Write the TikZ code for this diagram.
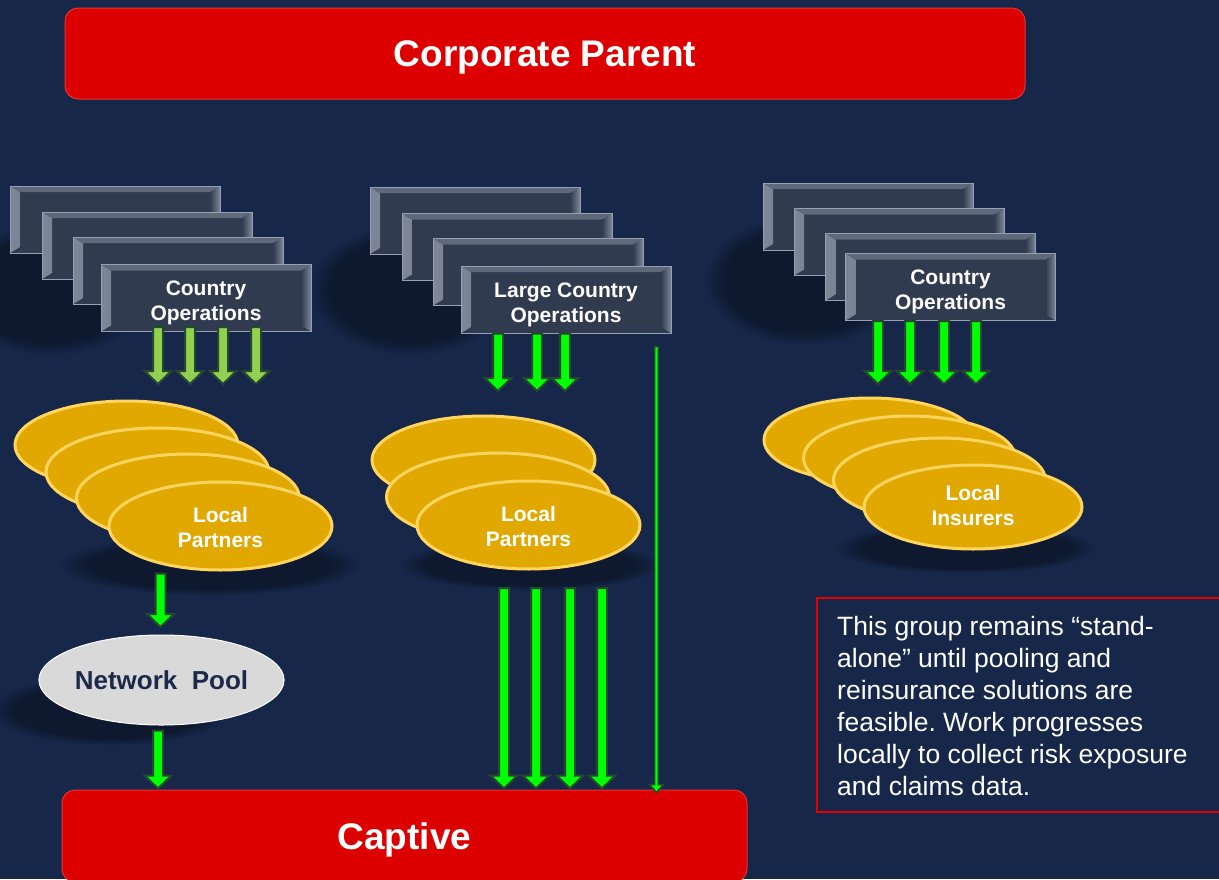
\documentclass[tikz,border=0pt]{standalone}
\usepackage{fontspec}
\setmainfont{Liberation Sans}
\frenchspacing
\usetikzlibrary{shapes,
	arrows.meta,
	calc,
	positioning,
	fadings}
\definecolor{navy}{RGB}{22,39,73}
\definecolor{barred}{RGB}{221,0,0}
\definecolor{opfill}{RGB}{48,59,80}
\definecolor{opedge}{RGB}{150,160,178}
\definecolor{bevel}{RGB}{125,135,152}
\definecolor{gold}{RGB}{224,168,0}
\definecolor{goldedge}{RGB}{255,212,95}
\definecolor{poolgray}{RGB}{217,217,217}
\definecolor{pooltext}{RGB}{27,42,74}
\definecolor{lgreen}{RGB}{146,208,80}
\definecolor{ggreen}{RGB}{0,255,0}
\definecolor{arredge}{RGB}{38,72,48}
\definecolor{notered}{RGB}{230,0,0}
\tikzstyle{bar}=[fill=barred, draw=barred!80!white, line width=1pt, rounded
		corners=13pt, text=white, text depth=0pt,
		font=\fontsize{37}{40}\selectfont\bfseries]
\tikzstyle{op}=[draw=opedge, line width=1pt, fill=opfill, minimum width=210,
		minimum height=67, inner sep=0, text=white, align=center, text height=50pt,
		font=\fontsize{21}{25}\selectfont\bfseries,
		path picture={
			\shade[left color=bevel, right color=opfill]
				(path picture bounding box.north west) -- ++(10pt,-6pt)
				-- ([xshift=10pt,yshift=6pt]path picture bounding box.south west)
				-- (path picture bounding box.south west) -- cycle;
			\shade[left color=opfill, right color=bevel]
				(path picture bounding box.north east) -- ++(-10pt,-6pt)
				-- ([xshift=-10pt,yshift=6pt]path picture bounding box.south east)
				-- (path picture bounding box.south east) -- cycle;
			\fill[bevel!60!opfill]
				(path picture bounding box.north west) -- ++(10pt,-6pt)
				-- ([xshift=-10pt,yshift=-6pt]path picture bounding box.north east)
				-- (path picture bounding box.north east) -- cycle;
		}]
\tikzstyle{lp}=[ellipse, fill=gold, draw=goldedge, line width=3pt, inner sep=0,
		minimum width=223, minimum height=88, text=white, align=center,
		text height=44pt, font=\fontsize{21}{25}\selectfont\bfseries]
\tikzstyle{li}=[lp, minimum width=212, minimum height=84, text height=37pt]
\tikzstyle{pool}=[ellipse, fill=poolgray, draw=white, line width=1pt, inner sep=0,
		minimum width=243, minimum height=90, text=pooltext,
		font=\fontsize{26}{30}\selectfont\bfseries]
% block arrow, always pointing down
\tikzstyle{ga}=[draw=arredge, line width=2pt, fill=ggreen, line join=miter,
		to path={let \p1=(\tikztostart), \p2=(\tikztotarget) in
			(\x1-5pt,\y1) -- (\x1-5pt,\y2+14pt) -- (\x1-13.5pt,\y2+14pt)
			-- (\x1,\y2+1pt) -- (\x1+13.5pt,\y2+14pt) -- (\x1+5pt,\y2+14pt)
			-- (\x1+5pt,\y1) -- cycle}]
\tikzstyle{la}=[ga, fill=lgreen]
\tikzstyle{gt}=[draw=arredge, line width=1.5pt, fill=ggreen, line join=miter,
		to path={let \p1=(\tikztostart), \p2=(\tikztotarget) in
			(\x1-1.8pt,\y1) -- (\x1-1.8pt,\y2+8pt) -- (\x1-7pt,\y2+8pt)
			-- (\x1,\y2) -- (\x1+7pt,\y2+8pt) -- (\x1+1.8pt,\y2+8pt)
			-- (\x1+1.8pt,\y1) -- cycle}]
\tikzstyle{sh}=[fill=black, opacity=.35, path fading=circle with fuzzy edge 20 percent]
\tikzstyle{note}=[draw=notered, line width=2pt]

\begin{document}
\begin{tikzpicture}[x=1pt, y=-1pt]
	\useasboundingbox (0,0) rectangle (1219,879);
	\fill[navy] (0,0) rectangle (1219,879);

	% soft shadows behind the stacks
	\path[sh] (50,290) ellipse (100pt and 65pt);
	\path[sh] (410,290) ellipse (100pt and 65pt);
	\path[sh] (805,280) ellipse (100pt and 65pt);
	\path[sh] (210,565) ellipse (150pt and 30pt);
	\path[sh] (530,565) ellipse (130pt and 25pt);
	\path[sh] (965,548) ellipse (130pt and 25pt);
	\path[sh] (110,710) ellipse (120pt and 35pt);

	\node[bar, minimum width=960, minimum height=91] (parent) at (545,53.5) {Corporate Parent};
	\node[bar, minimum width=685, minimum height=92] (captive) at (404.5,836) {Captive};

	% country operations, left
	\node[op] (c1a) at (115,219.5) {};
	\node[op] (c1b) at (147,245.5) {};
	\node[op] (c1c) at (178,270.5) {};
	\node[op] (c1d) at (206,298) {Country\\Operations};
	% large country operations
	\node[op] (c2a) at (475,220.5) {};
	\node[op] (c2b) at (507,247) {};
	\node[op] (c2c) at (538,272) {};
	\node[op] (c2d) at (566,299.5) {Large Country\\Operations};
	% country operations, right
	\node[op] (c3a) at (868,216.5) {};
	\node[op] (c3b) at (899,242) {};
	\node[op] (c3c) at (930.5,267) {};
	\node[op] (c3d) at (950.5,287) {Country\\Operations};

	\node[lp] (lp1a) at (126.5,445) {};
	\node[lp] (lp1b) at (157.5,472) {};
	\node[lp] (lp1c) at (188,498) {};
	\node[lp] (lp1d) at (220.5,526) {Local\\Partners};

	\node[lp] (lp2a) at (483.5,460) {};
	\node[lp] (lp2b) at (498,497) {};
	\node[lp] (lp2c) at (528.5,525) {Local\\Partners};

	\node[li] (li3a) at (870,440) {};
	\node[li] (li3b) at (909.5,458) {};
	\node[li] (li3c) at (939.5,480) {};
	\node[li, minimum width=218] (li3d) at (973,507) {Local\\Insurers};

	\node[pool] (pool) at (161.5,680) {Network\ \ Pool};

	\coordinate (r1) at (0,385);
	\coordinate (r2) at (0,392);
	\coordinate (r3) at (0,385);
	\coordinate (r4) at (0,628);
	\coordinate (r5) at (0,588);

	\draw[la] ([xshift=-48pt,yshift=5pt]c1d.south) to ([xshift=-48pt]c1d.south |- r1);
	\draw[la] ([xshift=-16pt,yshift=5pt]c1d.south) to ([xshift=-16pt]c1d.south |- r1);
	\draw[la] ([xshift=17pt,yshift=5pt]c1d.south) to ([xshift=17pt]c1d.south |- r1);
	\draw[la] ([xshift=50pt,yshift=5pt]c1d.south) to ([xshift=50pt]c1d.south |- r1);

	\draw[ga] ([xshift=-68pt]c2d.south) to ([xshift=-68pt]c2d.south |- r2);
	\draw[ga] ([xshift=-29pt]c2d.south) to ([xshift=-29pt]c2d.south |- r2);
	\draw[ga] ([xshift=-1pt]c2d.south) to ([xshift=-1pt]c2d.south |- r2);

	\draw[ga] ([xshift=-72.5pt]c3d.south) to ([xshift=-72.5pt]c3d.south |- r3);
	\draw[ga] ([xshift=-40.5pt]c3d.south) to ([xshift=-40.5pt]c3d.south |- r3);
	\draw[ga] ([xshift=-6.5pt]c3d.south) to ([xshift=-6.5pt]c3d.south |- r3);
	\draw[ga] ([xshift=25.5pt]c3d.south) to ([xshift=25.5pt]c3d.south |- r3);

	\draw[ga] ([xshift=-60pt,yshift=-2pt]lp1d.south) to ([xshift=-60pt]lp1d.south |- r4);
	\draw[ga] ([xshift=-3.5pt,yshift=-5pt]pool.south) to ([xshift=-3.5pt]pool.south |- captive.north);

	\draw[ga] ([xshift=-24.5pt]lp2c.south |- r5) to ([xshift=-24.5pt]lp2c.south |- captive.north);
	\draw[ga] ([xshift=7.5pt]lp2c.south |- r5) to ([xshift=7.5pt]lp2c.south |- captive.north);
	\draw[ga] ([xshift=41.5pt]lp2c.south |- r5) to ([xshift=41.5pt]lp2c.south |- captive.north);
	\draw[ga] ([xshift=73.5pt]lp2c.south |- r5) to ([xshift=73.5pt]lp2c.south |- captive.north);

	\draw[gt] ([xshift=-15pt,yshift=-13pt]c2d.south east) to ([xshift=-15pt,yshift=-3pt]c2d.south east |- captive.north);

	\draw[note] (817,598) rectangle (1225,812);
	\node[anchor=north west, inner sep=0, align=left, text=white,
		font=\fontsize{26.5}{32}\selectfont] (txt) at (837,616)
		{This group remains “stand-\\alone” until pooling and\\reinsurance solutions are\\feasible. Work progresses\\locally to collect risk exposure\\and claims data.};
\end{tikzpicture}
\end{document}
